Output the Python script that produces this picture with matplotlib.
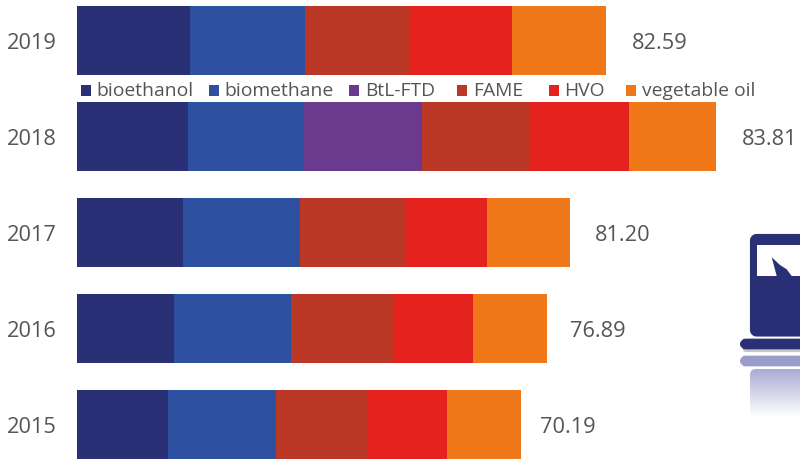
import numpy as np
import matplotlib
matplotlib.use("Agg")
import matplotlib.pyplot as plt
from matplotlib.patches import FancyBboxPatch, Polygon, Rectangle

plt.rcParams['font.family'] = ['Open Sans', 'DejaVu Sans']

years = ['2019', '2018', '2017', '2016', '2015']
totals = ['82.59', '83.81', '81.20', '76.89', '70.19']
fuels = ['bioethanol', 'biomethane', 'BtL-FTD', 'FAME', 'HVO', 'vegetable oil']

# segment lengths as drawn in the picture, the bars are not really to scale with the totals
bioethanol = [17.64, 17.33, 16.55, 15.07, 14.21]
biomethane = [18.03, 18.11, 18.27, 18.27, 16.86]
btl_ftd = [0, 18.42, 0, 0, 0]
fame = [16.24, 16.71, 16.35, 15.93, 14.36]
hvo = [16.08, 15.61, 12.90, 12.49, 12.41]
veg_oil = [14.60, 13.58, 12.91, 11.63, 11.48]

colors = ['#2a3076', '#2e50a0', '#693a8e', '#bc3826', '#e4231e', '#f07818']
text_col = '#555555'

fig = plt.figure(figsize=(8, 4.59), dpi=100)
ax = fig.add_axes([0, 0, 1, 1])

# ---- stacked bars ----
series = [bioethanol, biomethane, btl_ftd, fame, hvo, veg_oil]
y = np.arange(len(years))
left = np.zeros(len(years))
for vals, col, name in zip(series, colors, fuels):
    ax.barh(y, vals, left=left, height=0.718, color=col, label=name)
    left = left + np.array(vals)

ax.set_xlim(-12.02, 112.88)
ax.set_ylim(4.357, -0.419)
ax.axis('off')

# year labels on the left, totals right of the bars
gaps = [4.0, 4.1, 3.9, 3.55, 2.9]
for i in range(len(years)):
    ax.text(-7.03, i + 0.03, years[i], ha='center', va='center', fontsize=15.7, color=text_col)
    ax.text(left[i] + gaps[i], i + 0.03, totals[i], ha='left', va='center', fontsize=15.7, color=text_col)

# ---- overlay in pixel coords for legend and icon ----
icon = fig.add_axes([0, 0, 1, 1], zorder=3)
icon.set_xlim(0, 800)
icon.set_ylim(459, 0)
icon.axis('off')
navy = '#2a3076'

# legend between 2019 and 2018, spacing in the original is uneven so place by hand
square_x = [81, 209, 349, 457, 549, 626]
label_x = [96, 224, 365, 473, 564, 642]
for sx, lx, name, col in zip(square_x, label_x, fuels, colors):
    icon.add_patch(Rectangle((sx, 85), 10, 10.5, fc=col, ec='none'))
    icon.text(lx, 96, name, ha='left', va='baseline', fontsize=13.9, color=text_col)

# laptop body, cut off at the right edge
icon.add_patch(FancyBboxPatch((755.5, 239.5), 80, 91.5, boxstyle='round,pad=0,rounding_size=1', mutation_scale=1,
                              fc=navy, ec=navy, lw=8, joinstyle='round'))
icon.add_patch(Rectangle((757, 245), 60, 31, fc='white', ec='none'))
icon.add_patch(Polygon([(771.7, 257.3), (780, 265), (786.7, 269.3), (791.7, 276), (776.7, 276)], fc=navy, ec='none'))

# base with a soft shadow
icon.add_patch(FancyBboxPatch((745, 346), 90, 4, boxstyle='round,pad=0,rounding_size=1', mutation_scale=1,
                              fc='#c8c8c8', ec='#c8c8c8', lw=3, zorder=1))
icon.add_patch(FancyBboxPatch((745, 343.5), 90, 1, boxstyle='round,pad=0,rounding_size=1', mutation_scale=1,
                              fc=navy, ec=navy, lw=7, zorder=2))

# reflection, fades out to white
grad = np.linspace(0, 1, 100).reshape(-1, 1, 1)
ref_col = np.array(matplotlib.colors.to_rgb('#a9abd4')).reshape(1, 1, 3)
grad_rgb = ref_col * (1 - grad) + grad

icon.add_patch(FancyBboxPatch((745, 360.5), 90, 1, boxstyle='round,pad=0,rounding_size=1', mutation_scale=1,
                              fc='#9a9ccc', ec='#9a9ccc', lw=7))
body_im = icon.imshow(grad_rgb, extent=(750, 830, 417, 369), aspect='auto', zorder=1)
body_clip = FancyBboxPatch((753, 372), 80, 50, boxstyle='round,pad=3,rounding_size=6', mutation_scale=1,
                           fc='none', ec='none', lw=0, transform=icon.transData)
icon.add_patch(body_clip)
body_im.set_clip_path(body_clip)
icon.set_xlim(0, 800)
icon.set_ylim(459, 0)

fig.savefig('out.png', dpi=100)
